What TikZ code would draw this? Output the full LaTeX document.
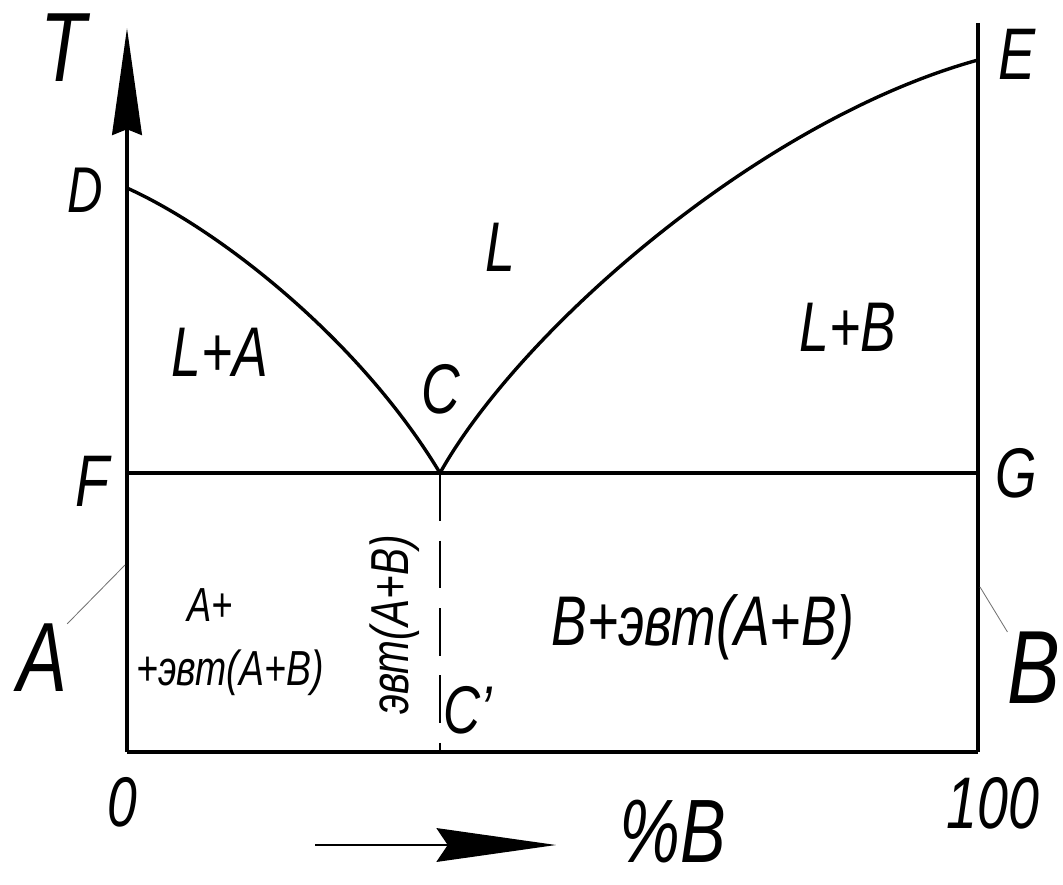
\documentclass[tikz,border=0pt]{standalone}
\usepackage{fontspec}
\setmainfont{Liberation Sans}
\usetikzlibrary{arrows.meta}

\begin{document}
\begin{tikzpicture}[x=0.025cm, y=-0.025cm,
    lbl/.style={inner sep=0pt, xscale=0.76, font=\itshape\fontsize{#1}{#1}\selectfont},
    leader/.style={black!55, line width=0.6pt}]
    \useasboundingbox (0,0) rectangle (1063,885);

    % corner points of the diagram
    \coordinate (O) at (127,752);
    \coordinate (Ttop) at (127,28);
    \coordinate (D) at (127,188);
    \coordinate (F) at (127,473);
    \coordinate (C) at (440,473);
    \coordinate (Cb) at (440,752);
    \coordinate (Etop) at (978,23);
    \coordinate (E) at (978,60);
    \coordinate (G) at (978,473);
    \coordinate (H) at (978,752);

    % axes and frame
    \draw[line width=2.8pt, -{Stealth[length=76pt, width=21pt, inset=4pt]}] (O) -- (Ttop);
    \draw[line width=2.4pt] (Etop) -- (H);
    \draw[line width=3.4pt] (O) -- (H);
    \draw[line width=2.4pt] (F) -- (G);

    % liquidus curves
    \draw[line width=2.4pt] (D) .. controls (220,230) and (360,340) .. (C);
    \draw[line width=2.4pt] (C) .. controls (520,330) and (760,120) .. (E);

    % eutectic composition
    \draw[line width=1pt, dash pattern=on 34pt off 14pt] (C) -- (Cb);

    % point labels
    \node[lbl=70] (Tlab) at (63,48) {T};
    \node[lbl=46] (Dlab) at (85,190) {D};
    \node[lbl=52] (Elab) at (1017,54) {E};
    \node[lbl=52] (Flab) at (92,481) {F};
    \node[lbl=50] (Glab) at (1016,473) {G};
    \node[lbl=50] (Clab) at (441,389) {C};
    \node[lbl=48] (Cblab) at (468,710) {C'};

    % phase regions
    \node[lbl=50] (Llab) at (500,247) {L};
    \node[lbl=50] (LAlab) at (220,352) {L+A};
    \node[lbl=50] (LBlab) at (848,327) {L+B};
    \node[lbl=34] (Aplus) at (210,605) {A+};
    \node[lbl=35] (Aeut) at (230,673) {+эвт(A+B)};
    \node[rotate=90, lbl=38] (eut) at (395,625) {эвт(A+B)};
    \node[lbl=50] (Beut) at (703,627) {B+эвт(A+B)};

    % components with leaders
    \node[lbl=70] (Alab) at (42,658) {A};
    \node[lbl=74] (Blab) at (1034,668) {B};
    \coordinate (Aa) at (125,565);
    \coordinate (Bb) at (980,587);
    \draw[leader] (Alab.north east) -- (Aa);
    \draw[leader] (Blab.north west) -- (Bb);

    % composition axis
    \node[lbl=50] (zero) at (122,802) {0};
    \node[lbl=52] (hundred) at (993,803) {100};
    \coordinate (ar1) at (315,845);
    \coordinate (ar2) at (556,845);
    \draw[line width=1.5pt, -{Stealth[length=85pt, width=24pt, inset=8pt]}] (ar1) -- (ar2);
    \node[lbl=64] (pB) at (673,832) {\%B};
\end{tikzpicture}
\end{document}
